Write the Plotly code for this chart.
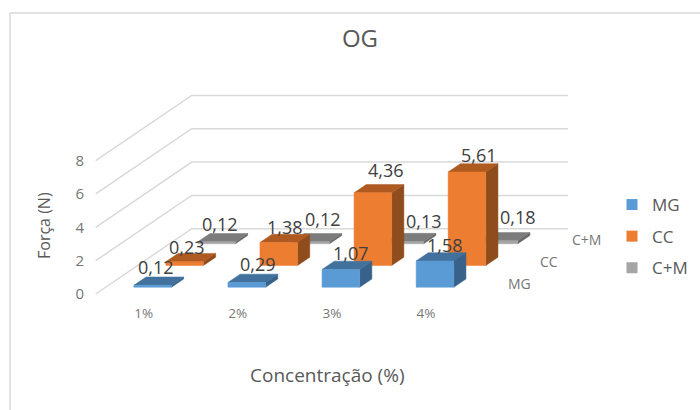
import plotly.graph_objects as go

categories = ["1%", "2%", "3%", "4%"]
series_names = ["MG", "CC", "C+M"]
mg_values = [0.12, 0.29, 1.07, 1.58]
cc_values = [0.23, 1.38, 4.36, 5.61]
cm_values = [0.12, 0.12, 0.13, 0.18]
y_ticks = [0, 2, 4, 6, 8]

all_values = [mg_values, cc_values, cm_values]
front_colors = ["#5B9BD5", "#ED7D31", "#A5A5A5"]
top_colors = ["#41719C", "#AE5A21", "#7C7C7C"]
side_colors = ["#38628A", "#8F4C1C", "#676767"]
# label nudges in pixels, per series then category
label_shift = [
    [(3, 18), (11, 18), (10, 16), (10, 16)],
    [(2, 15), (6, 16), (13, 23), (12, 17)],
    [(3, 18), (12, 23), (19, 21), (19, 24)],
]

W, H = 700, 410
X0_PX, Y0_PX = 95.7, 294.0        # front-left floor corner
CAT_PX, UNIT_PX = 94.1, 16.67     # one category, one force unit
DX_PX, DY_PX = 32.0, 21.75        # one series row of depth
L, R, T, B = 85, 0, 0, 107
GAP_X, BAR_X = 0.3, 0.4
GAP_D, BAR_D = 0.31, 0.38
SHEAR_X, SHEAR_Y = DX_PX / CAT_PX, DY_PX / UNIT_PX
DEPTH = len(series_names)
GRID = "#D9D9D9"
TEXT = "#595959"
TICK = "#767676"
FONT = "Open Sans"


def proj(x, v, d):
    """Oblique projection of (category, force, depth) on the 2D axes."""
    return x + d * SHEAR_X, v + d * SHEAR_Y


def poly_trace(corners, color):
    xs, ys = [], []
    for poly in corners:
        for (x, v, d) in poly + [poly[0]]:
            px, py = proj(x, v, d)
            xs.append(px)
            ys.append(py)
        xs.append(None)
        ys.append(None)
    return go.Scatter(x=xs, y=ys, mode="lines", fill="toself", fillcolor=color,
                      line=dict(color=color, width=0.5), hoverinfo="skip", showlegend=False)


fig = go.Figure()

# walls
gx, gy = [], []
for v in y_ticks:
    for p in [(0, v, 0), (0, v, DEPTH), (len(categories), v, DEPTH)]:
        a, b = proj(*p)
        gx.append(a)
        gy.append(b)
    gx.append(None)
    gy.append(None)
fig.add_trace(go.Scatter(x=gx, y=gy, mode="lines", line=dict(color=GRID, width=1.5),
                         hoverinfo="skip", showlegend=False))

# bars, back row first
annotations = []
for s in reversed(range(DEPTH)):
    front, side, top = [], [], []
    for c, v in enumerate(all_values[s]):
        x0, x1 = c + GAP_X, c + GAP_X + BAR_X
        d0, d1 = s + GAP_D, s + GAP_D + BAR_D
        front.append([(x0, 0, d0), (x1, 0, d0), (x1, v, d0), (x0, v, d0)])
        side.append([(x1, 0, d0), (x1, 0, d1), (x1, v, d1), (x1, v, d0)])
        top.append([(x0, v, d0), (x1, v, d0), (x1, v, d1), (x0, v, d1)])
        ax, ay = proj((x0 + x1) / 2, v, d0)
        sx, sy = label_shift[s][c]
        annotations.append(dict(x=ax, y=ay, text=f"{v:.2f}".replace(".", ","), showarrow=False,
                                xanchor="center", yanchor="middle",
                                xshift=sx, yshift=sy, font=dict(size=18, color="#404040", family=FONT)))
    fig.add_trace(poly_trace(side, side_colors[s]))
    fig.add_trace(poly_trace(top, top_colors[s]))
    fig.add_trace(poly_trace(front, front_colors[s]))

# legend entries
for s, name in enumerate(series_names):
    fig.add_trace(go.Scatter(x=[None], y=[None], mode="markers", name=name, legendgroup=name,
                             marker=dict(symbol="square", size=11, color=front_colors[s])))

# depth axis labels
for s, name in enumerate(series_names):
    ax, ay = proj(len(categories), 0, s + 0.5)
    annotations.append(dict(x=ax, y=ay, text=name, showarrow=False, xanchor="left", yanchor="middle", xshift=18,
                            font=dict(size=14, color=TICK, family=FONT)))

# axis titles
annotations.append(dict(xref="paper", yref="paper", x=(327 - L) / (W - L - R), y=1 - (375 - T) / (H - T - B),
                        xanchor="center", yanchor="middle",
                        text="Concentração (%)", showarrow=False, font=dict(size=19, color=TEXT, family=FONT)))
annotations.append(dict(xref="paper", yref="paper", x=(44 - L) / (W - L - R), y=1 - (226 - T) / (H - T - B),
                        xanchor="center", yanchor="middle",
                        text="Força (N)", textangle=-90, showarrow=False, font=dict(size=16, color=TEXT, family=FONT)))

fig.update_layout(
    width=W, height=H, autosize=False,
    margin=dict(l=L, r=R, t=T, b=B),
    paper_bgcolor="white", plot_bgcolor="rgba(0,0,0,0)",
    title=dict(text="OG", x=360 / W, xanchor="center", y=1 - 39 / H, yanchor="middle",
               font=dict(size=24, color=TEXT, family=FONT)),
    xaxis=dict(range=[(L - X0_PX) / CAT_PX, (W - R - X0_PX) / CAT_PX], showgrid=False, zeroline=False,
               tickmode="array", tickvals=[i + 0.51 for i in range(len(categories))], ticktext=categories,
               ticks="", showline=False, tickfont=dict(size=13.5, color=TICK, family=FONT)),
    yaxis=dict(range=[(Y0_PX - (H - B)) / UNIT_PX, (Y0_PX - T) / UNIT_PX], showgrid=False, zeroline=False,
               tickmode="array", tickvals=y_ticks, ticks="", showline=False,
               tickfont=dict(size=15, color=TICK, family=FONT)),
    legend=dict(x=(612 - L) / (W - L - R), xanchor="left", y=1 - (187 - T) / (H - T - B), yanchor="top",
                traceorder="grouped", tracegroupgap=6.5, font=dict(size=17, color=TEXT, family=FONT),
                bgcolor="rgba(0,0,0,0)", itemclick=False, itemdoubleclick=False),
    annotations=annotations,
    shapes=[
        dict(type="line", xref="paper", yref="paper", x0=(10 - L) / (W - L), x1=(10 - L) / (W - L),
             y0=-B / (H - B), y1=(H - B - 13 + 0) / (H - B), line=dict(color=GRID, width=1.5)),
        dict(type="line", xref="paper", yref="paper", x0=(10 - L) / (W - L), x1=1,
             y0=(H - B - 13) / (H - B), y1=(H - B - 13) / (H - B), line=dict(color=GRID, width=1.5)),
    ],
)
fig.write_html("out.html", post_script="document.body.style.margin='0';", config={"displayModeBar": False})
